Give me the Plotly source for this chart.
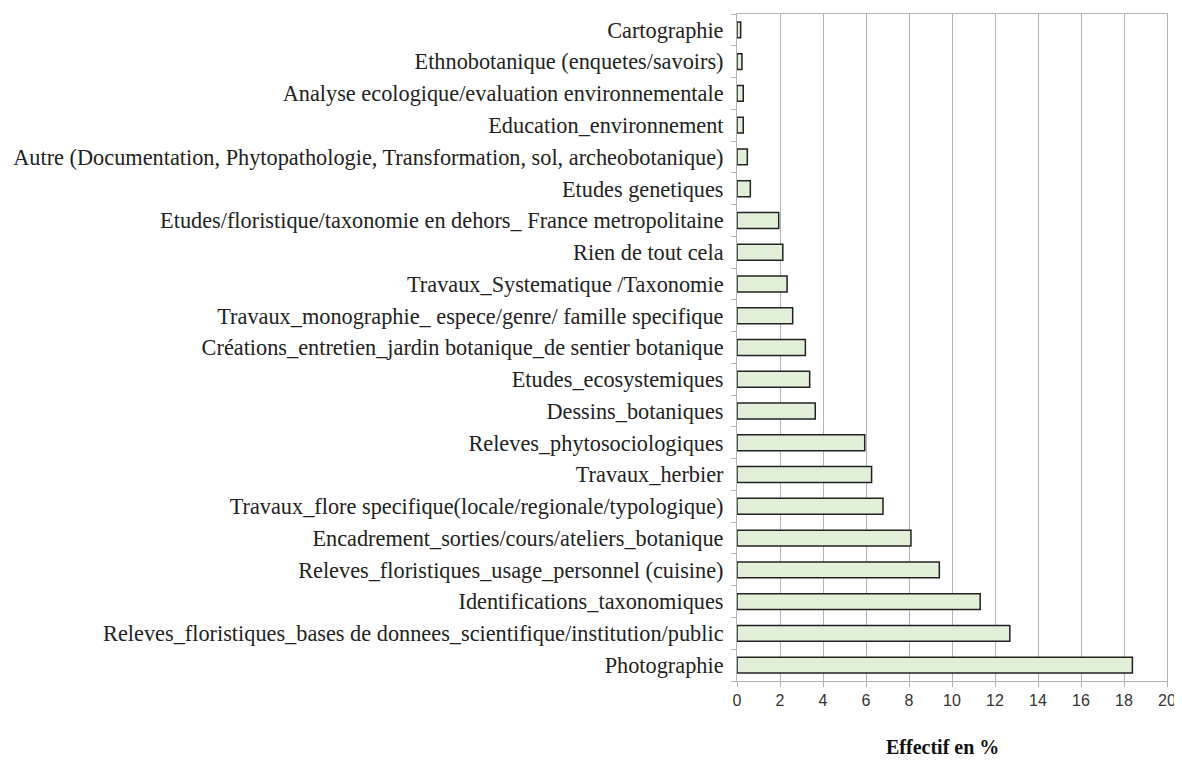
import plotly.graph_objects as go

categories = [
    "Photographie",
    "Releves_floristiques_bases de donnees_scientifique/institution/public",
    "Identifications_taxonomiques",
    "Releves_floristiques_usage_personnel (cuisine)",
    "Encadrement_sorties/cours/ateliers_botanique",
    "Travaux_flore specifique(locale/regionale/typologique)",
    "Travaux_herbier",
    "Releves_phytosociologiques",
    "Dessins_botaniques",
    "Etudes_ecosystemiques",
    "Créations_entretien_jardin botanique_de sentier botanique",
    "Travaux_monographie_ espece/genre/ famille specifique",
    "Travaux_Systematique /Taxonomie",
    "Rien de tout cela",
    "Etudes/floristique/taxonomie en dehors_ France metropolitaine",
    "Etudes genetiques",
    "Autre (Documentation, Phytopathologie, Transformation, sol, archeobotanique)",
    "Education_environnement",
    "Analyse ecologique/evaluation environnementale",
    "Ethnobotanique (enquetes/savoirs)",
    "Cartographie",
]
values = [18.39, 12.69, 11.31, 9.41, 8.09, 6.79, 6.26, 5.94, 3.64, 3.38, 3.18,
          2.59, 2.33, 2.13, 1.94, 0.62, 0.48, 0.29, 0.29, 0.23, 0.17]
x_ticks = list(range(0, 21, 2))

fig = go.Figure(go.Bar(
    y=categories, x=values, orientation="h",
    marker=dict(color="#e2efd9", line=dict(color="#222222", width=1.5)),
    width=0.5,
))

# page body has an 8px margin; figure placed at (8, 8)
OFF = 8
W, H = 1182 - OFF, 761 - OFF
l, r, t, b = 735 - OFF, 15, 13 - OFF, 88 - OFF
plot_w = W - l - r
fig.update_layout(
    width=W, height=H,
    margin=dict(l=l, r=r, t=t, b=b, pad=0),
    plot_bgcolor="white", paper_bgcolor="white",
    showlegend=False,
    bargap=0.5,
    xaxis=dict(
        range=[0, 20], tickvals=x_ticks, ticktext=[str(v) for v in x_ticks],
        showgrid=True, gridcolor="#b3b3b3", gridwidth=1,
        showline=True, linecolor="#b3b3b3", mirror=True,
        ticks="outside", ticklen=5, tickcolor="#b3b3b3",
        tickfont=dict(family="Liberation Sans", size=16, color="#333333"),
        zeroline=False,
    ),
    yaxis=dict(
        categoryorder="array", categoryarray=categories,
        autorange=False, range=[-0.5, len(categories) - 0.5],
        showline=True, linecolor="#b3b3b3", mirror=True,
        ticks="outside", ticklen=5, tickcolor="#b3b3b3", tickson="boundaries",
        showgrid=False,
        tickfont=dict(family="Liberation Serif", size=22.3, color="#222222"),
        ticklabelstandoff=8,
    ),
    annotations=[dict(
        text="<b>Effectif en %</b>", x=(941 - 735) / plot_w, xref="paper",
        y=-(739 - (H - b)) / (H - t - b), yref="paper",
        showarrow=False, xanchor="center", yanchor="middle",
        font=dict(family="Liberation Serif", size=20, color="#111111"),
    )],
)

fig.write_html("out.html")
